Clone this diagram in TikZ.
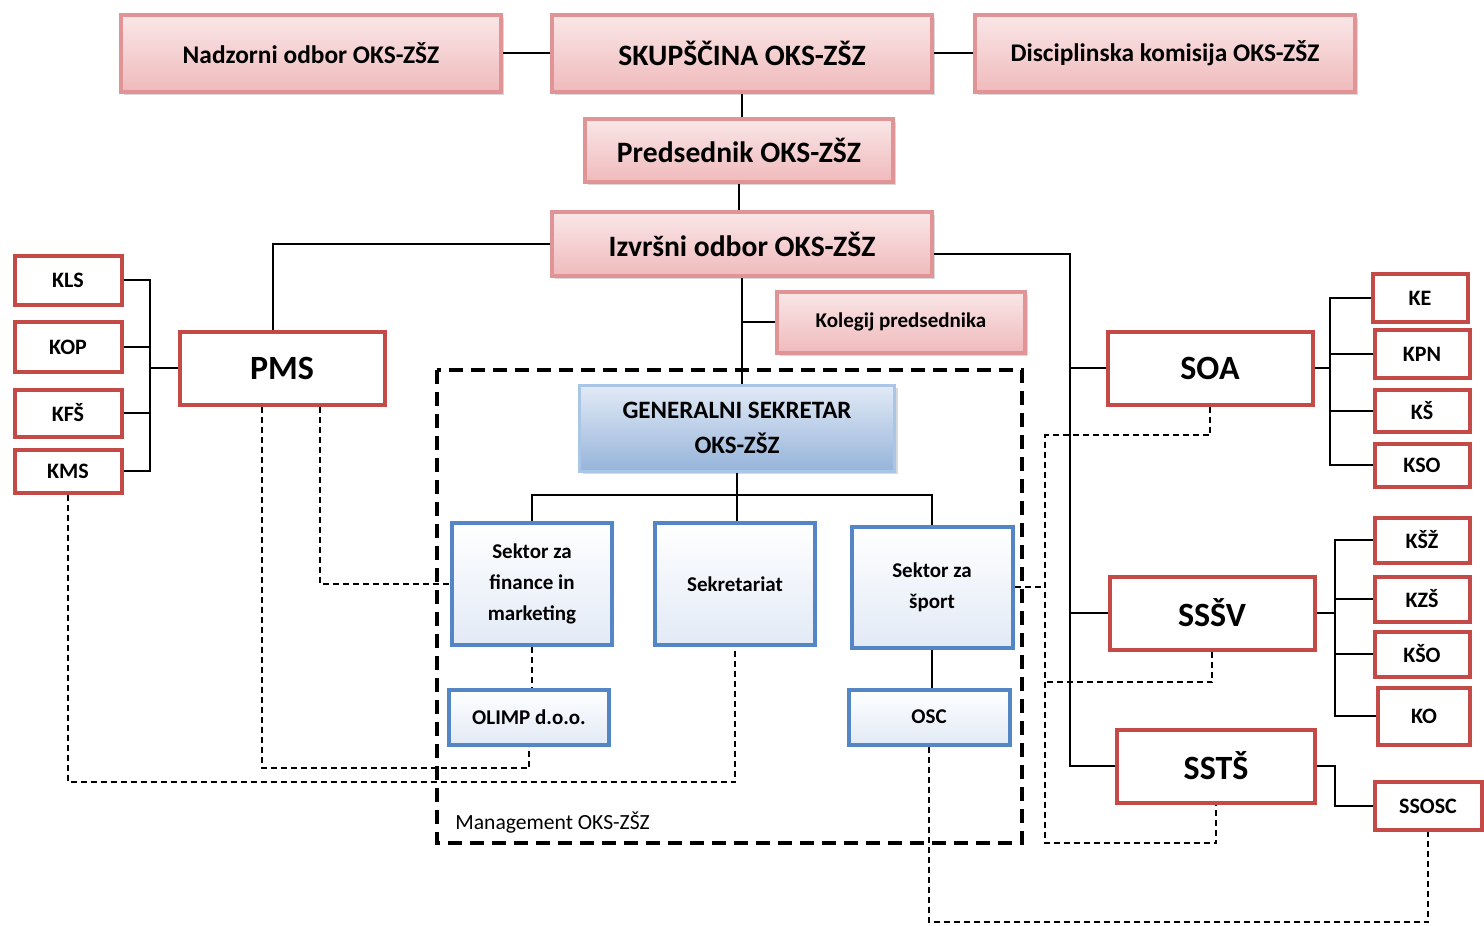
\documentclass[tikz,border=0pt]{standalone}
\usepackage{fontspec}
\setmainfont{Carlito}
\usepackage{tikz}
\definecolor{boxred}{RGB}{196,74,72}
\definecolor{boxblue}{RGB}{84,134,198}
\definecolor{rosefill}{RGB}{240,186,188}
\definecolor{roseline}{RGB}{224,148,150}
\definecolor{skyfill}{RGB}{150,180,218}
\definecolor{skyline}{RGB}{170,198,230}
\definecolor{paleblue}{RGB}{226,234,246}
\usetikzlibrary{shadows}

\begin{document}
\begin{tikzpicture}[x=0.5pt,y=-0.5pt,
    line/.style={line width=0.9pt},
    dotline/.style={line width=0.6pt,dash pattern=on 3pt off 2pt},
    mgmtline/.style={line width=1.7pt,dash pattern=on 7pt off 4pt},
    rosebox/.style={draw=roseline,line width=2pt,top color=rosefill!35,bottom color=rosefill,
        drop shadow={shadow xshift=1.5pt,shadow yshift=-1.5pt,opacity=0.3},
        minimum width=190pt,minimum height=38.5pt,inner sep=0pt,
        font=\bfseries\fontsize{14.8}{17}\selectfont},
    smalltxt/.style={font=\bfseries\fontsize{12.7}{15}\selectfont},
    bigred/.style={draw=boxred,line width=2pt,fill=white,minimum width=102.5pt,
        minimum height=36.5pt,inner sep=0pt,font=\bfseries\fontsize{17}{20}\selectfont},
    smallred/.style={draw=boxred,line width=2pt,fill=white,minimum width=47.5pt,
        minimum height=23pt,inner sep=0pt,font=\bfseries\fontsize{11}{13}\selectfont},
    secbox/.style={draw=boxblue,line width=2pt,top color=white,bottom color=paleblue,
        minimum width=80pt,minimum height=61pt,inner sep=0pt,align=center,
        font=\bfseries\fontsize{10.5}{15.5}\selectfont},
    gsbox/.style={draw=skyline,line width=1.5pt,top color=paleblue,bottom color=skyfill,
        drop shadow={shadow xshift=1.5pt,shadow yshift=-1.5pt,opacity=0.3},
        minimum width=157.5pt,minimum height=43pt,inner sep=0pt,align=center,
        font=\bfseries\fontsize{12.5}{17.5}\selectfont}
]
\useasboundingbox (0,0) rectangle (1484,926);

\draw[mgmtline] (437,370) rectangle (1022,843);
\node[anchor=west,inner sep=0pt,font=\fontsize{10.8}{13}\selectfont] (mlabel) at (455,823) {Management OKS-ZŠZ};

\node[rosebox,smalltxt] (nadzor) at (311,53) {Nadzorni odbor OKS-ZŠZ};
\node[rosebox] (skup) at (742,53) {SKUPŠČINA OKS-ZŠZ};
\node[rosebox,smalltxt] (disc) at (1165,53) {Disciplinska komisija OKS-ZŠZ};
\node[rosebox,minimum width=154pt,minimum height=31.5pt] (pred) at (739,150) {Predsednik OKS-ZŠZ};
\node[rosebox,minimum height=32pt] (izv) at (742,244) {Izvršni odbor OKS-ZŠZ};
\node[rosebox,minimum width=124pt,minimum height=30.5pt,
    font=\bfseries\fontsize{10.5}{12}\selectfont] (koleg) at (901,322) {Kolegij predsednika};

\node[gsbox] (gs) at (737,428) {GENERALNI SEKRETAR\\OKS-ZŠZ};
\node[secbox] (sfm) at (532,584) {Sektor za\\finance in\\marketing};
\node[secbox] (sek) at (735,584) {Sekretariat};
\node[secbox,minimum width=80.5pt,minimum height=60.5pt] (sport) at (932,587) {Sektor za\\šport};
\node[secbox,minimum height=27.5pt] (olimp) at (529,717) {OLIMP d.o.o.};
\node[secbox,minimum width=80.5pt,minimum height=27.5pt] (osc) at (929,717) {OSC};

\node[bigred] (pms) at (282,368) {PMS};
\node[bigred] (soa) at (1210,368) {SOA};
\node[bigred] (sssv) at (1212,613) {SSŠV};
\node[bigred,minimum width=99pt] (ssts) at (1216,766) {SSTŠ};

\node[smallred,minimum width=53.5pt,minimum height=24.5pt] (kls) at (68,280) {KLS};
\node[smallred,minimum width=53.5pt,minimum height=25pt] (kop) at (68,347) {KOP};
\node[smallred,minimum width=53.5pt,minimum height=23.5pt] (kfs) at (68,413) {KFŠ};
\node[smallred,minimum width=53.5pt,minimum height=21.5pt] (kms) at (68,471) {KMS};

\node[smallred,minimum height=24pt] (ke) at (1420,298) {KE};
\node[smallred,minimum height=24pt] (kpn) at (1422,354) {KPN};
\node[smallred,minimum height=21pt] (ks) at (1422,411) {KŠ};
\node[smallred,minimum height=21.5pt] (kso) at (1422,465) {KSO};
\node[smallred,minimum height=22.5pt] (ksz) at (1422,540) {KŠŽ};
\node[smallred,minimum height=22.5pt] (kzs) at (1422,599) {KZŠ};
\node[smallred,minimum height=22.5pt] (ksho) at (1422,654) {KŠO};
\node[smallred,minimum width=46pt,minimum height=28.5pt] (ko) at (1424,716) {KO};
\node[smallred,minimum width=53.5pt,minimum height=24pt] (ssosc) at (1428,806) {SSOSC};

\coordinate (lbus) at (150,372);
\coordinate (rbus) at (1070,255);
\coordinate (soabus) at (1330,370);
\coordinate (sssvbus) at (1335,617);
\coordinate (sstsbus) at (1335,768);
\coordinate (gsbus) at (737,495);
\coordinate (lowa) at (740,782);
\coordinate (lowb) at (533,768);
\coordinate (lowc) at (925,922);
\coordinate (soadash) at (1045,435);
\coordinate (sssvdash) at (1045,682);
\coordinate (sstsdash) at (1045,843);

\draw[line] (nadzor) -- (skup);
\draw[line] (skup) -- (disc);
\draw[line] (skup.south) -- (skup.south |- pred.north);
\draw[line] (pred.south) -- (pred.south |- izv.north);
\draw[line] (izv.west) -| ([xshift=-4.5pt]pms.north);
\draw[line] ([yshift=-5pt]izv.east) -| (rbus |- ssts.west) -- (ssts.west);
\draw[line] (rbus |- soa.west) -- (soa.west);
\draw[line] (rbus |- sssv.west) -- (sssv.west);
\draw[line] (izv.south) -- (izv.south |- gs.north);
\draw[line] (izv.south |- koleg.west) -- (koleg.west);
\draw[line] (gs.south) -- (gs.south |- sek.north);
\draw[line] (sfm.north) |- (gsbus) -| (sport.north);
\draw[line] (sport.south) -- (sport.south |- osc.north);

\draw[line] (pms.west) -- (pms.west -| lbus);
\draw[line] (kls.east) -| (lbus |- kms.east) -- (kms.east);
\draw[line] (kop.east) -- (kop.east -| lbus);
\draw[line] (kfs.east) -- (kfs.east -| lbus);

\draw[line] (soa.east) -- (soa.east -| soabus);
\draw[line] (ke.west) -| (soabus |- kso.west) -- (kso.west);
\draw[line] (kpn.west) -- (kpn.west -| soabus);
\draw[line] (ks.west) -- (ks.west -| soabus);

\draw[line] (sssv.east) -- (sssv.east -| sssvbus);
\draw[line] (ksz.west) -| (sssvbus |- ko.west) -- (ko.west);
\draw[line] (kzs.west) -- (kzs.west -| sssvbus);
\draw[line] (ksho.west) -- (ksho.west -| sssvbus);

\draw[line] (ssts.east) -| (sstsbus |- ssosc.west) -- (ssosc.west);

\draw[dotline] (kms.south) |- (sek.south |- lowa) -- (sek.south);
\draw[dotline] ([xshift=-10pt]pms.south) |- (olimp.south |- lowb) -- (olimp.south);
\draw[dotline] ([xshift=19pt]pms.south) |- (sfm.west);
\draw[dotline] (sfm.south) -- (sfm.south |- olimp.north);
\draw[dotline] (osc.south) |- (ssosc.south |- lowc) -- (ssosc.south);
\draw[dotline] (soa.south) |- (soadash) -- (sstsdash) -| (ssts.south);
\draw[dotline] (sssv.south) |- (sssvdash);
\draw[dotline] (sport.east) -- (sport.east -| soadash);
\end{tikzpicture}
\end{document}
